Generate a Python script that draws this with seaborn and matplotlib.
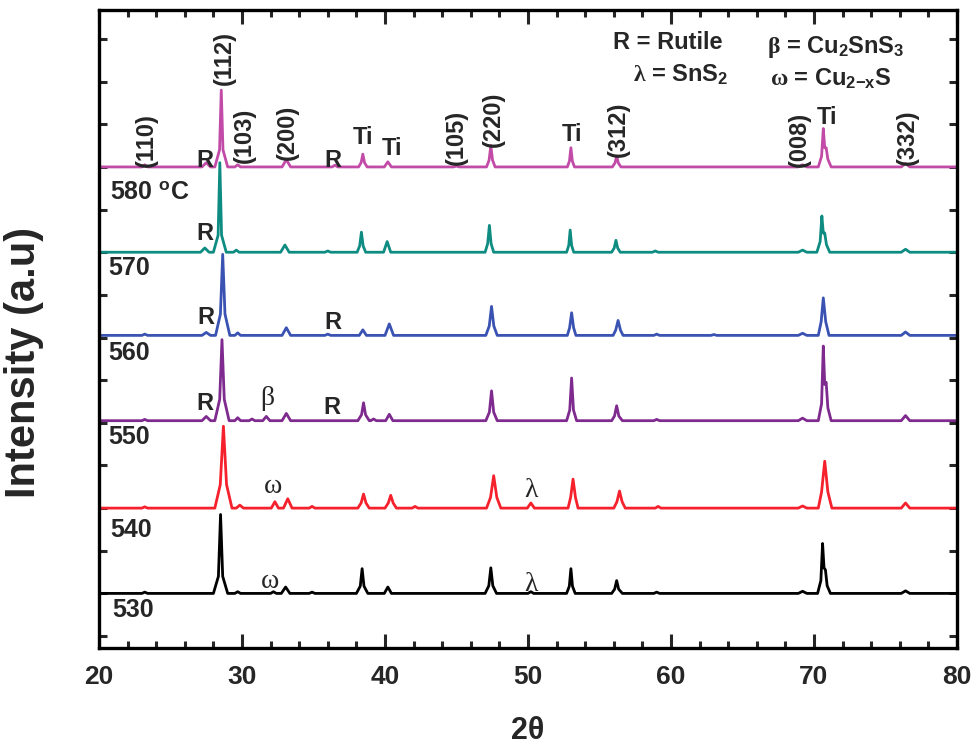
import matplotlib
matplotlib.use("Agg")
import numpy as np
import matplotlib.pyplot as plt
import seaborn as sns
from matplotlib.ticker import MultipleLocator

# ---------------- data ----------------
labels_temp = ["530", "540", "550", "560", "570", "580 $^\\mathbf{o}$C"]
offsets = [1.0, 3.0, 5.05, 7.05, 9.0, 11.0]
colors = ["#000000", "#F5222D", "#7E2A8E", "#3A52B2", "#0E8C82", "#C24BA8"]

x_530 = [20, 23.0, 23.2, 23.4, 28.0, 28.35, 28.5, 28.65, 29.0, 29.5, 29.7, 29.9,
         32.0, 32.2, 32.4, 32.75, 33.05, 33.35, 34.7, 34.9, 35.1,
         38.0, 38.27, 38.4, 38.53, 38.8, 39.95, 40.2, 40.45,
         47.0, 47.26, 47.4, 47.54, 47.8, 50.0, 50.2, 50.4,
         52.7, 52.89, 53.0, 53.11, 53.3, 55.85, 56.06, 56.2, 56.34, 56.6,
         58.8, 59.0, 59.2, 68.9, 69.2, 69.5,
         70.25, 70.48, 70.6, 70.7, 70.8, 70.92, 71.15, 76.1, 76.4, 76.7, 80]
y_530 = [0, 0, 0.03, 0, 0, 0.4, 1.85, 0.4, 0, 0, 0.04, 0,
         0, 0.04, 0, 0, 0.15, 0, 0, 0.03, 0,
         0, 0.17, 0.58, 0.17, 0, 0, 0.15, 0,
         0, 0.18, 0.6, 0.18, 0, 0, 0.04, 0,
         0, 0.17, 0.58, 0.17, 0, 0, 0.1, 0.3, 0.1, 0,
         0, 0.03, 0, 0, 0.05, 0,
         0, 0.3, 1.17, 0.6, 0.55, 0.18, 0, 0, 0.06, 0, 0]

x_540 = [20, 23.0, 23.2, 23.4, 28.1, 28.48, 28.7, 28.92, 29.3, 29.6, 29.85, 30.1,
         32.05, 32.3, 32.55, 32.9, 33.2, 33.5, 34.7, 34.9, 35.1,
         38.1, 38.33, 38.5, 38.67, 38.9, 40.0, 40.23, 40.4, 40.57, 40.8,
         41.9, 42.1, 42.3, 47.1, 47.38, 47.6, 47.82, 48.1, 49.95, 50.2, 50.45,
         52.8, 52.98, 53.15, 53.32, 53.5, 56.0, 56.22, 56.4, 56.58, 56.8,
         58.9, 59.1, 59.3, 68.9, 69.2, 69.5,
         70.3, 70.53, 70.75, 70.97, 71.25, 76.1, 76.4, 76.7, 80]
y_540 = [0, 0, 0.03, 0, 0, 0.55, 1.92, 0.55, 0, 0, 0.07, 0,
         0, 0.15, 0, 0, 0.22, 0, 0, 0.04, 0,
         0, 0.12, 0.33, 0.12, 0, 0, 0.12, 0.3, 0.12, 0,
         0, 0.04, 0, 0, 0.25, 0.76, 0.25, 0, 0, 0.12, 0,
         0, 0.25, 0.68, 0.25, 0, 0, 0.15, 0.4, 0.15, 0,
         0, 0.04, 0, 0, 0.05, 0,
         0, 0.38, 1.1, 0.38, 0, 0, 0.12, 0, 0]

x_550 = [20, 23.0, 23.2, 23.4, 27.2, 27.5, 27.8, 28.1, 28.44, 28.6, 28.76, 29.1,
         29.5, 29.7, 29.9, 30.5, 30.7, 30.9, 31.45, 31.7, 31.95, 32.8, 33.1, 33.4,
         38.1, 38.36, 38.5, 38.64, 38.9, 39.0, 39.2, 39.4, 40.05, 40.3, 40.55,
         47.05, 47.3, 47.45, 47.6, 47.85, 52.7, 52.92, 53.05, 53.18, 53.4,
         55.85, 56.05, 56.2, 56.35, 56.6, 58.8, 59.0, 59.2, 68.9, 69.2, 69.5,
         70.3, 70.53, 70.65, 70.75, 70.85, 70.97, 71.2, 76.1, 76.4, 76.7, 80]
y_550 = [0, 0, 0.03, 0, 0, 0.1, 0, 0, 0.5, 1.9, 0.5, 0,
         0, 0.07, 0, 0, 0.04, 0, 0, 0.1, 0, 0, 0.17, 0,
         0, 0.14, 0.42, 0.14, 0, 0, 0.04, 0, 0, 0.15, 0,
         0, 0.2, 0.7, 0.2, 0, 0, 0.25, 1.0, 0.25, 0,
         0, 0.11, 0.35, 0.11, 0, 0, 0.03, 0, 0, 0.06, 0,
         0, 0.4, 1.75, 0.85, 0.9, 0.3, 0, 0, 0.12, 0, 0]

x_560 = [20, 23.0, 23.2, 23.4, 27.2, 27.5, 27.8, 28.15, 28.49, 28.65, 28.81, 29.15,
         29.5, 29.7, 29.9, 32.8, 33.1, 33.4, 35.8, 36.0, 36.2,
         38.2, 38.45, 38.7, 40.0, 40.3, 40.6,
         47.05, 47.29, 47.45, 47.61, 47.85, 52.75, 52.91, 53.05, 53.19, 53.35,
         55.95, 56.13, 56.3, 56.47, 56.65, 58.8, 59.0, 59.2, 62.8, 63.0, 63.2,
         68.9, 69.2, 69.5, 70.3, 70.5, 70.65, 70.82, 71.05, 76.1, 76.4, 76.7, 80]
y_560 = [0, 0, 0.03, 0, 0, 0.07, 0, 0, 0.5, 1.9, 0.5, 0,
         0, 0.06, 0, 0, 0.18, 0, 0, 0.03, 0,
         0, 0.13, 0, 0, 0.27, 0,
         0, 0.22, 0.68, 0.22, 0, 0, 0.18, 0.53, 0.18, 0,
         0, 0.12, 0.35, 0.12, 0, 0, 0.03, 0, 0, 0.02, 0,
         0, 0.05, 0, 0, 0.32, 0.88, 0.32, 0, 0, 0.08, 0, 0]

x_570 = [20, 27.1, 27.4, 27.7, 28.0, 28.33, 28.45, 28.57, 28.9, 29.4, 29.6, 29.8,
         32.7, 33.0, 33.3, 35.8, 36.0, 36.2, 38.05, 38.23, 38.35, 38.47, 38.65,
         39.9, 40.15, 40.4, 47.0, 47.18, 47.3, 47.42, 47.6, 52.7, 52.85, 52.95, 53.05, 53.2,
         55.85, 56.03, 56.15, 56.27, 56.45, 58.7, 58.9, 59.1, 68.9, 69.2, 69.5,
         70.2, 70.43, 70.55, 70.65, 70.75, 70.87, 71.1, 76.1, 76.4, 76.7, 80]
y_570 = [0, 0, 0.1, 0, 0, 0.4, 2.1, 0.4, 0, 0, 0.05, 0,
         0, 0.17, 0, 0, 0.03, 0, 0, 0.15, 0.47, 0.15, 0,
         0, 0.25, 0, 0, 0.2, 0.63, 0.2, 0, 0, 0.16, 0.52, 0.16, 0,
         0, 0.1, 0.28, 0.1, 0, 0, 0.03, 0, 0, 0.05, 0,
         0, 0.25, 0.85, 0.45, 0.45, 0.18, 0, 0, 0.07, 0, 0]

x_580 = [20, 23.0, 23.2, 23.4, 27.2, 27.5, 27.8, 28.1, 28.43, 28.55, 28.67, 29.0,
         29.5, 29.7, 29.9, 32.8, 33.1, 33.4, 36.3, 36.5, 36.7,
         38.15, 38.33, 38.45, 38.57, 38.75, 39.95, 40.2, 40.45, 44.8, 45.0, 45.2,
         47.1, 47.28, 47.4, 47.52, 47.7, 52.75, 52.9, 53.0, 53.1, 53.25,
         55.9, 56.08, 56.2, 56.32, 56.5, 68.9, 69.2, 69.5,
         70.3, 70.53, 70.65, 70.75, 70.85, 70.97, 71.2, 76.1, 76.4, 76.7, 80]
y_580 = [0, 0, 0.05, 0, 0, 0.1, 0, 0, 0.4, 1.8, 0.4, 0,
         0, 0.05, 0, 0, 0.17, 0, 0, 0.04, 0,
         0, 0.1, 0.3, 0.1, 0, 0, 0.12, 0, 0, 0.02, 0,
         0, 0.16, 0.5, 0.16, 0, 0, 0.14, 0.45, 0.14, 0,
         0, 0.09, 0.25, 0.09, 0, 0, 0.05, 0,
         0, 0.25, 0.9, 0.45, 0.45, 0.18, 0, 0, 0.08, 0, 0]

xs = [x_530, x_540, x_550, x_560, x_570, x_580]
ys = [y_530, y_540, y_550, y_560, y_570, y_580]

# peak indices (rotated) and phase labels
hkl_text = ["(110)", "(112)", "(103)", "(200)", "(105)", "(220)", "(312)", "(008)", "(332)"]
hkl_x = [23.3, 28.8, 30.2, 33.2, 45.0, 47.6, 56.3, 69.0, 76.5]
hkl_y = [11.0, 12.92, 11.09, 11.16, 11.05, 11.47, 11.23, 11.0, 11.05]

phase_text = ["R", "R", "Ti", "Ti", "Ti", "Ti", "R", "R", "R", "R", "R"]
phase_x = [27.4, 36.35, 38.45, 40.5, 53.05, 70.9, 27.4, 27.5, 36.35, 27.4, 36.3]
phase_y = [11.16, 11.16, 11.68, 11.44, 11.75, 12.15, 9.45, 7.48, 7.36, 5.46, 5.37]

greek_text = ["β", "ω", "λ", "ω", "λ"]
greek_x = [31.75, 32.2, 50.2, 31.95, 50.2]
greek_y = [5.58, 3.5, 3.42, 1.27, 1.2]

temp_x = [20.9, 20.77, 20.63, 20.63, 20.63, 20.77]
temp_y = [0.61, 2.49, 4.67, 6.64, 8.63, 10.39]

key_text = ["R = Rutile", "$\\mathrm{\\lambda}$ = SnS$_\\mathbf{2}$",
            "$\\mathrm{\\beta}$ = Cu$_\\mathbf{2}$SnS$_\\mathbf{3}$",
            "$\\mathrm{\\omega}$ = Cu$_\\mathbf{2{-}x}$S"]
key_x = [55.94, 57.34, 66.71, 66.92]
key_y = [13.77, 12.99, 13.67, 12.9]

# ---------------- styling ----------------
sns.set_theme(style="ticks")
plt.rcParams['font.family'] = ['Liberation Sans', 'DejaVu Sans']
plt.rcParams['font.weight'] = 'bold'
plt.rcParams['mathtext.fontset'] = 'custom'
plt.rcParams['mathtext.rm'] = 'Liberation Serif'
plt.rcParams['mathtext.bf'] = 'Liberation Sans:bold'
plt.rcParams['mathtext.it'] = 'Liberation Serif:italic'

fig = plt.figure(figsize=(9.77, 7.56), dpi=100)
ax = fig.add_axes([99 / 977, 1 - 648 / 756, (957 - 99) / 977, (648 - 10) / 756])

for x, y, off, c in zip(xs, ys, offsets, colors):
    sns.lineplot(x=x, y=np.array(y) + off, ax=ax, color=c, linewidth=2.0,
                 estimator=None, sort=False)

ax.set_xlim(20, 80)
ax.set_ylim(-0.28, 14.68)
ax.xaxis.set_major_locator(MultipleLocator(10))
ax.xaxis.set_minor_locator(MultipleLocator(2))
ax.yaxis.set_major_locator(MultipleLocator(1))
ax.tick_params(axis='x', which='major', direction='in', length=10, width=2.2,
               top=True, labelsize=19, pad=12)
ax.tick_params(axis='x', which='minor', direction='in', length=5, width=2.2, top=True)
ax.tick_params(axis='y', which='major', direction='in', length=6, width=2.2,
               right=True, labelleft=False)
for s in ax.spines.values():
    s.set_linewidth(2.4)
    s.set_color('black')
for lab in ax.get_xticklabels():
    lab.set_fontweight('bold')

ax.set_xlabel("2θ", fontsize=22, fontweight='bold', labelpad=20)
ax.set_ylabel("Intensity (a.u)", fontsize=30, fontweight='bold')
ax.yaxis.set_label_coords(-0.064, 0.448)

for t, x, y in zip(hkl_text, hkl_x, hkl_y):
    ax.text(x, y, t, rotation=90, ha='center', va='bottom', fontsize=17, fontweight='bold')
for t, x, y in zip(phase_text, phase_x, phase_y):
    ax.text(x, y, t, ha='center', va='center', fontsize=17, fontweight='bold')
for t, x, y in zip(greek_text, greek_x, greek_y):
    ax.text(x, y, t, ha='center', va='center', fontsize=20, family='Liberation Serif',
            fontweight='normal')
for t, x, y in zip(labels_temp, temp_x, temp_y):
    ax.text(x, y, t, ha='left', va='center', fontsize=18, fontweight='bold')
for t, x, y in zip(key_text, key_x, key_y):
    ax.text(x, y, t, ha='left', va='baseline', fontsize=17, fontweight='bold')

fig.savefig("out.png", dpi=100, facecolor='white')
